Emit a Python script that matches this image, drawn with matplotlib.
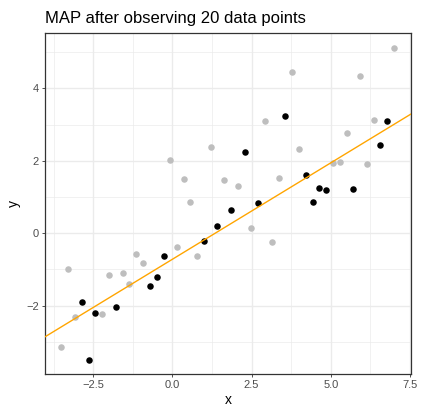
import numpy as np
import matplotlib.pyplot as plt
from matplotlib.ticker import MultipleLocator

plt.rcParams['font.family'] = ['Liberation Sans', 'DejaVu Sans']

# 已观测的 20 个点（黑色）
obs_x = [-2.86, -2.43, -2.64, -1.79, -0.71, -0.50, -0.28, 1.00, 1.42, 1.86,
         2.71, 4.43, 2.28, 3.56, 4.22, 4.64, 4.85, 5.71, 6.56, 6.78]
obs_y = [-1.89, -2.21, -3.50, -2.05, -1.46, -1.22, -0.62, -0.21, 0.21, 0.64,
         0.83, 0.86, 2.24, 3.23, 1.61, 1.25, 1.18, 1.22, 2.43, 3.10]

# 其余未观测的点（灰色）
rest_x = [-0.06, 0.36, 0.57, 1.21, 1.64, 2.07, 2.49, 2.93, 3.36, 3.79,
          4.00, 5.07, 5.28, 5.50, 5.93, 6.15, 6.35, 6.99, 3.15, 0.79,
          -3.28, -3.50, -3.07, -2.21, -2.00, -1.56, -1.36, -1.14, -0.92, 0.15]
rest_y = [2.03, 1.51, 0.85, 2.38, 1.47, 1.30, 0.15, 3.11, 1.53, 4.44,
          2.34, 1.95, 1.98, 2.76, 4.34, 1.91, 3.14, 5.11, -0.24, -0.62,
          -0.99, -3.13, -2.31, -2.24, -1.16, -1.10, -1.40, -0.57, -0.83, -0.38]

# MAP 估计的直线
map_intercept = -0.72
map_slope = 0.533

fig = plt.figure(figsize=(4.22, 4.13), dpi=100)
ax = fig.add_axes([0.1066, 0.0944, 0.974 - 0.1066, 0.920 - 0.0944])

ax.scatter(rest_x, rest_y, s=22, color='#BEBEBE', linewidths=0, zorder=3)
ax.scatter(obs_x, obs_y, s=22, color='black', linewidths=0, zorder=4)
ax.axline((0, map_intercept), slope=map_slope, color='#FFA500', lw=1.0, zorder=5)

ax.set_xlim(-4.02, 7.53)
ax.set_ylim(-3.89, 5.53)
ax.xaxis.set_major_locator(MultipleLocator(2.5))
ax.xaxis.set_minor_locator(MultipleLocator(1.25))
ax.yaxis.set_major_locator(MultipleLocator(2))
ax.yaxis.set_minor_locator(MultipleLocator(1))
ax.set_xticks([-2.5, 0.0, 2.5, 5.0, 7.5])
ax.set_xticklabels(['\u22122.5', '0.0', '2.5', '5.0', '7.5'])
ax.set_yticks([-2, 0, 2, 4])
ax.set_yticklabels(['\u22122', '0', '2', '4'])

ax.grid(which='major', color='#EBEBEB', lw=1.0, zorder=0)
ax.grid(which='minor', color='#EBEBEB', lw=0.5, zorder=0)
ax.set_axisbelow(True)
ax.tick_params(which='major', length=2.5, width=0.6, color='#333333',
               labelsize=8, labelcolor='#4D4D4D', pad=2)
ax.tick_params(which='minor', length=0)
for s in ax.spines.values():
    s.set_color('#333333')
    s.set_linewidth(0.9)

ax.set_xlabel('x', fontsize=10, labelpad=2)
ax.set_ylabel('y', fontsize=10, labelpad=4)
ax.set_title('MAP after observing 20 data points', fontsize=12, loc='left', pad=7)

fig.savefig('out.png', dpi=100)
